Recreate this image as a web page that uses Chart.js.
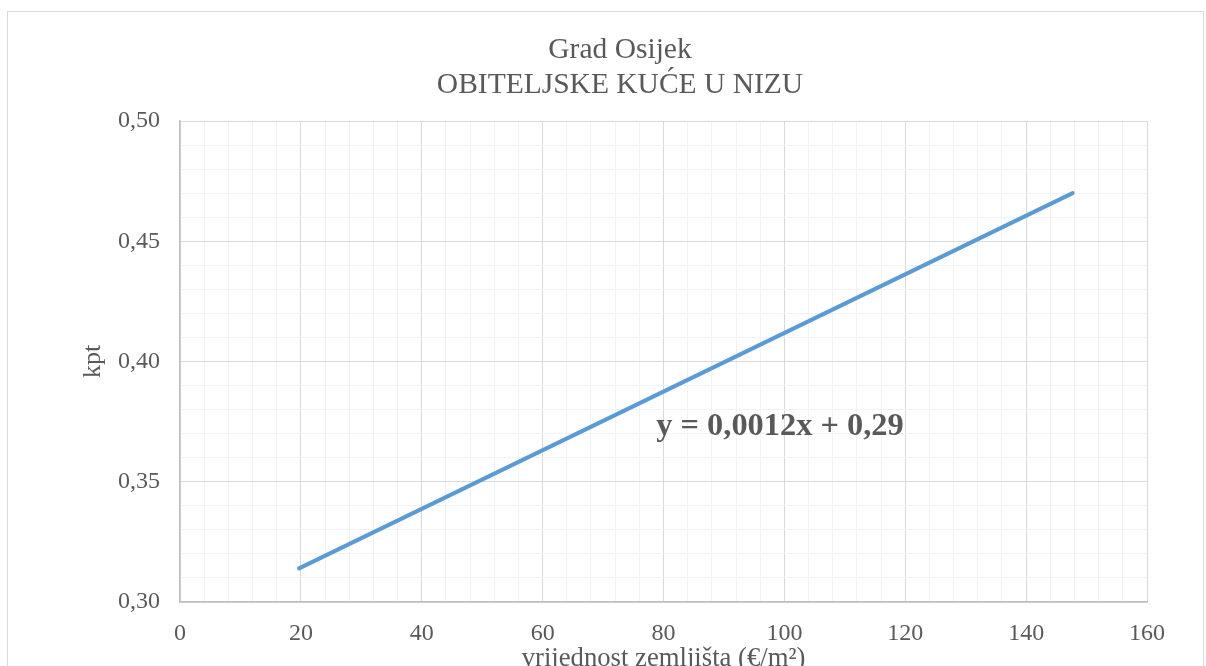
<!DOCTYPE html>
<html>
<head>
<meta charset="utf-8">
<script src="https://cdn.jsdelivr.net/npm/chart.js@4"></script>
<style>
  html, body { margin: 0; padding: 0; background: #fff; overflow: hidden; }
  #frame { position: absolute; left: 7px; top: 11px; width: 1197px; height: 700px; border: 1px solid #d9d9d9; box-sizing: border-box; }
  #wrap { position: absolute; left: 0; top: 0; width: 1206px; height: 700px; }
</style>
</head>
<body>
<div id="frame"></div>
<div id="wrap"><canvas id="myChart" width="1206" height="700"></canvas></div>
<script>
// data
const xValues = [19.7, 147.7];
const yValues = [0.314, 0.47];
const xTickValues = [0, 20, 40, 60, 80, 100, 120, 140, 160];
const xTickLabels = ["0", "20", "40", "60", "80", "100", "120", "140", "160"];
const yTickValues = [0.30, 0.35, 0.40, 0.45, 0.50];
const yTickLabels = ["0,30", "0,35", "0,40", "0,45", "0,50"];
const titleLines = ["Grad Osijek", "OBITELJSKE KUĆE U NIZU"];
const equationText = "y = 0,0012x + 0,29";
const equationAt = { x: 78.8, y: 0.3694 };

const textColor = "#595959";
const majorGrid = "#d9d9d9";
const minorGrid = "#f2f2f2";
const serif = "'Liberation Serif', 'Times New Roman', serif";

Chart.defaults.font.family = serif;
Chart.defaults.color = textColor;

const points = xValues.map((x, i) => ({ x: x, y: yValues[i] }));

const titleAndEquation = {
    id: "titleAndEquation",
    afterDraw(chart) {
        const c = chart.ctx;
        c.save();
        c.fillStyle = textColor;
        c.textAlign = "center";
        c.textBaseline = "alphabetic";
        c.font = "29.5px " + serif;
        c.fillText(titleLines[0], 620, 58);
        c.fillText(titleLines[1], 620, 93);

        const px = chart.scales.x.getPixelForValue(equationAt.x);
        const py = chart.scales.y.getPixelForValue(equationAt.y);
        c.textAlign = "left";
        c.font = "bold 32.4px " + serif;
        c.fillText(equationText, px, py);
        c.restore();
    }
};

function findLabel(values, labels, v) {
    const i = values.findIndex(t => Math.abs(t - v) < 1e-6);
    return i >= 0 ? labels[i] : "";
}

const ctx = document.getElementById("myChart").getContext("2d");

const config = {
    type: "scatter",
    data: {
        datasets: [{
            data: points,
            showLine: true,
            borderColor: "#5b9bd5",
            borderWidth: 4,
            borderCapStyle: "round",
            pointRadius: 0,
            pointHoverRadius: 0
        }]
    },
    options: {
        responsive: false,
        animation: false,
        events: [],
        layout: { padding: { left: 0, right: 59, top: 121, bottom: 0 } },
        plugins: {
            legend: { display: false },
            tooltip: { enabled: false }
        },
        scales: {
            x: {
                type: "linear",
                min: 0,
                max: 160,
                afterFit(scale) { scale.height = 98; },
                border: { color: "#bfbfbf", width: 1.5 },
                grid: {
                    drawTicks: false,
                    color: (c) => (c.tick && findLabel(xTickValues, xTickLabels, c.tick.value) !== "") ? majorGrid : minorGrid
                },
                ticks: {
                    stepSize: 4,
                    autoSkip: false,
                    maxRotation: 0,
                    padding: 17,
                    font: { size: 24 },
                    callback: (v) => findLabel(xTickValues, xTickLabels, v)
                },
                title: {
                    display: true,
                    text: "vrijednost zemljišta (€/m²)",
                    font: { size: 26.7 },
                    padding: { top: 0, bottom: 25 }
                }
            },
            y: {
                type: "linear",
                min: 0.30,
                max: 0.50,
                afterFit(scale) { scale.width = 180; },
                border: { color: "#bfbfbf", width: 1.5 },
                grid: {
                    drawTicks: false,
                    color: (c) => (c.tick && findLabel(yTickValues, yTickLabels, c.tick.value) !== "") ? majorGrid : minorGrid
                },
                ticks: {
                    stepSize: 0.01,
                    autoSkip: false,
                    padding: 20,
                    font: { size: 24 },
                    callback: (v) => findLabel(yTickValues, yTickLabels, v)
                },
                title: {
                    display: true,
                    text: "kpt",
                    font: { size: 26 },
                    padding: { top: 78, bottom: 0 }
                }
            }
        }
    },
    plugins: [titleAndEquation]
};

const myChart = new Chart(ctx, config);
</script>
</body>
</html>
